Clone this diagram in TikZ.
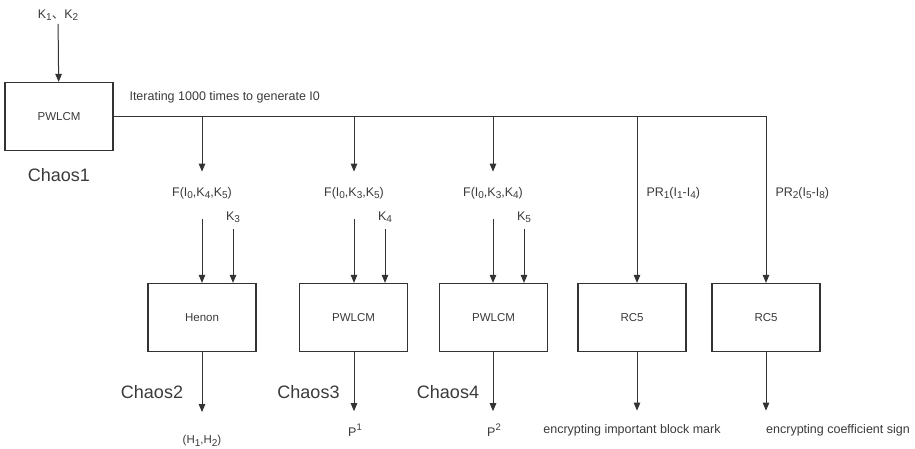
\documentclass[tikz,border=0pt]{standalone}
\usepackage{fontspec}
\setmainfont{Liberation Sans}
\newfontfamily\cjk{Noto Sans CJK SC}
\usetikzlibrary{arrows.meta,positioning,calc}
\definecolor{cr-ink}{HTML}{333333}
\definecolor{cr-text}{HTML}{3A3A3A}
\newcommand{\lo}[1]{\raisebox{-0.35ex}{\fontsize{10}{10}\selectfont #1}}
\newcommand{\hi}[1]{\raisebox{0.9ex}{\fontsize{9.5}{10}\selectfont #1}}

\begin{document}
\begin{tikzpicture}[
  x=1pt,y=1pt,font=\fontsize{12.5}{14}\selectfont,text=cr-text,
  blk/.style={draw=cr-ink,line width=1.2pt,minimum width=108pt,minimum height=68pt,
              inner sep=0pt,font=\fontsize{11.5}{13}\selectfont},
  tag/.style={font=\fontsize{18}{20}\selectfont},
  ln/.style={cr-ink,line width=1pt},
  ar/.style={-{Triangle[length=8pt,width=6.5pt]},cr-ink,line width=1pt}
]
\useasboundingbox (0,0) rectangle (915,449);

% first map, fed by K1, K2
\node[blk] (gen) at (59,332.5) {PWLCM};
\node (k12) at (58,434) {K\lo{1}{\cjk 、}K\lo{2}};
\node[tag] (c1) at (59,274) {Chaos1};
\node[anchor=west] (it) at (126,352) {Iterating 1000 times to generate I0};
\draw[ar] (k12) -- (gen);

% second row of maps
\node[blk] (b1) at (202,131.5)   {Henon};
\node[blk] (b2) at (353.5,131.5) {PWLCM};
\node[blk] (b3) at (493.5,131.5) {PWLCM};
\node[blk] (b4) at (632,131.5)   {RC5};
\node[blk] (b5) at (766,131.5)   {RC5};

\node (f1) at (202,256) {F(I\lo{0},K\lo{4},K\lo{5})};
\node (f2) at (354,256) {F(I\lo{0},K\lo{3},K\lo{5})};
\node (f3) at (493,256) {F(I\lo{0},K\lo{3},K\lo{4})};
\node (k3) at (233,232) {K\lo{3}};
\node (k4) at (385,232) {K\lo{4}};
\node (k5) at (524,232) {K\lo{5}};
\node[anchor=west] (p1) at (643,256) {PR\lo{1}(I\lo{1}-I\lo{4})};
\node[anchor=west] (p2) at (772,256) {PR\lo{2}(I\lo{5}-I\lo{8})};

% bus from Chaos1
\coordinate (j1) at (gen.east -| f1);
\coordinate (j2) at (gen.east -| f2);
\coordinate (j3) at (gen.east -| f3);
\coordinate (j4) at (637,332.5);
\draw[ar] (gen.east) -| (b5.north);
\draw[ar,shorten >=12pt] (j1) -- (f1);
\draw[ar,shorten >=12pt] (j2) -- (f2);
\draw[ar,shorten >=12pt] (j3) -- (f3);
\draw[ar] (j4) -- (j4 |- b4.north);

\draw[ar,shorten <=17pt] (f1) -- (f1 |- b1.north);
\draw[ar,shorten <=17pt] (f2) -- (f2 |- b2.north);
\draw[ar,shorten <=17pt] (f3) -- (f3 |- b3.north);
\draw[ar,shorten <=3pt] (k3) -- (k3 |- b1.north);
\draw[ar,shorten <=3pt] (k4) -- (k4 |- b2.north);
\draw[ar,shorten <=3pt] (k5) -- (k5 |- b3.north);

% outputs
\node[tag] (c2) at (152,57)   {Chaos2};
\node[tag] (c3) at (308.5,57) {Chaos3};
\node[tag] (c4) at (448,57)   {Chaos4};
\node[font=\fontsize{11.5}{13}\selectfont] (o1) at (202,8) {(H\lo{1},H\lo{2})};
\node (o2) at (355,19) {P\hi{1}};
\node (o3) at (494,19) {P\hi{2}};
\node (o4) at (632,19) {encrypting important block mark};
\node (o5) at (838,19) {encrypting coefficient sign};

\draw[ar,shorten >=20pt] (b1) -- (o1);
\draw[ar,shorten >=9pt] (b2.south -| f2) -- (o2.north -| f2);
\draw[ar,shorten >=9pt] (b3.south -| f3) -- (o3.north -| f3);
\draw[ar,shorten >=10pt] (j4 |- b4.south) -- (j4 |- o4.north);
\draw[ar,shorten >=10pt] (b5) -- (b5 |- o5.north);

\end{tikzpicture}
\end{document}
